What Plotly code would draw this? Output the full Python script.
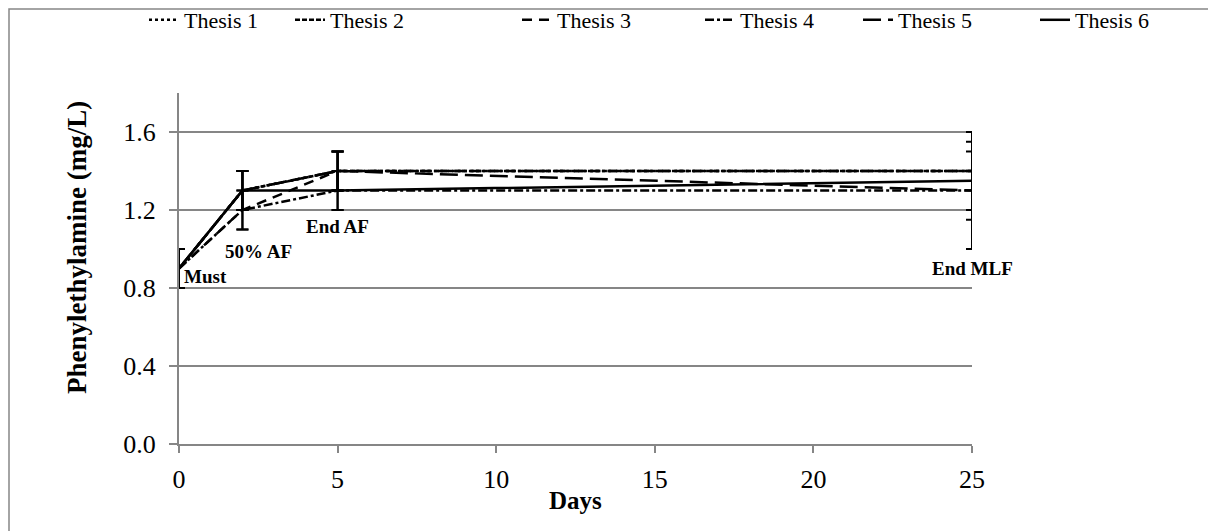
import plotly.graph_objects as go

days = [0, 2, 5, 25]
series_names = ["Thesis 1", "Thesis 2", "Thesis 3", "Thesis 4", "Thesis 5", "Thesis 6"]
thesis1 = [0.9, 1.3, 1.4, 1.4]
thesis2 = [0.9, 1.3, 1.4, 1.4]
thesis3 = [0.9, 1.2, 1.4, 1.4]
thesis4 = [0.9, 1.2, 1.3, 1.3]
thesis5 = [0.9, 1.3, 1.4, 1.3]
thesis6 = [0.9, 1.3, 1.3, 1.35]

err1_plus = [0.1, 0.1, 0.1, 0.2]
err1_minus = [0.1, 0.1, 0.1, 0.2]
err2_plus = [0.1, 0.1, 0.1, 0.2]
err2_minus = [0.1, 0.1, 0.1, 0.2]
err3_plus = [0.1, 0.1, 0.1, 0.2]
err3_minus = [0.1, 0.1, 0.1, 0.2]
err4_plus = [0.1, 0.1, 0.1, 0.2]
err4_minus = [0.1, 0.1, 0.1, 0.1]
err5_plus = [0.1, 0.1, 0.1, 0.3]
err5_minus = [0.1, 0.1, 0.1, 0.3]
err6_plus = [0.1, 0.1, 0.1, 0.2]
err6_minus = [0.1, 0.1, 0.1, 0.2]

stage_labels = ["Must", "50% AF", "End AF", "End MLF"]

values = [thesis1, thesis2, thesis3, thesis4, thesis5, thesis6]
errs_p = [err1_plus, err2_plus, err3_plus, err4_plus, err5_plus, err6_plus]
errs_m = [err1_minus, err2_minus, err3_minus, err4_minus, err5_minus, err6_minus]
dashes = ["dot", "5px,2px", "10px,7px", "dashdot", "18px,7px", "solid"]

FONT = "Liberation Serif"
GRAY = "#868686"
OFF = 8  # page body margin in the screenshot
W, H = 1216, 531
# target plot area in screenshot pixels: x 179..972, y 93..444
ML, MT = 179 - OFF, 93 - OFF
MR, MB = W - (972 - OFF), H - (444 - OFF)
PW, PH = W - ML - MR, H - MT - MB


def px_x(p):
    return (p - OFF - ML) / PW


def px_y(p):
    return (H - MB - (p - OFF)) / PH


legend_ids = ["legend", "legend2", "legend3", "legend4", "legend5", "legend6"]
legend_text_px = [184, 330, 557, 740, 898, 1075]

fig = go.Figure()
for name, vals, ep, em, d, lid in zip(series_names, values, errs_p, errs_m, dashes, legend_ids):
    fig.add_trace(go.Scatter(
        x=days, y=vals, name=name, mode="lines", legend=lid,
        line=dict(color="black", width=2.5, dash=d),
        error_y=dict(type="data", array=ep, arrayminus=em, visible=True,
                     color="black", thickness=2, width=6),
    ))

# stage labels (positions tied to data coordinates)
label_pos = [(0, 0.9, "left", 3, -8), (2, 1.0, "center", 16, -2),
             (5, 1.2, "center", 0, -16), (25, 0.9, "center", 0, 0)]
for lab, (xv, yv, xa, xs, ys) in zip(stage_labels, label_pos):
    fig.add_annotation(x=xv, y=yv, text="<b>%s</b>" % lab, showarrow=False,
                       xanchor=xa, yanchor="middle", xshift=xs, yshift=ys,
                       font=dict(family=FONT, size=19, color="black"))

# axis titles
fig.add_annotation(xref="paper", yref="paper", x=px_x(575), y=px_y(500),
                   xanchor="center", yanchor="middle",
                   text="<b>Days</b>", showarrow=False,
                   font=dict(family=FONT, size=25, color="black"))
fig.add_annotation(xref="paper", yref="paper", x=px_x(77), y=px_y(248),
                   xanchor="center", yanchor="middle",
                   text="<b>Phenylethylamine (mg/L)</b>", textangle=-90,
                   showarrow=False, font=dict(family=FONT, size=27, color="black"))

# outer chart border
fig.add_shape(type="rect", xref="paper", yref="paper",
              x0=px_x(9), x1=px_x(1215), y0=px_y(545), y1=px_y(9),
              line=dict(color=GRAY, width=1.5), layer="below")

layout_legends = {}
for lid, tx in zip(legend_ids, legend_text_px):
    layout_legends[lid] = dict(
        orientation="h", x=px_x(tx - 40), xanchor="left", y=px_y(20), yanchor="middle",
        font=dict(family=FONT, size=22, color="black"),
        bgcolor="rgba(0,0,0,0)", itemwidth=30)

fig.update_layout(
    width=W, height=H,
    margin=dict(l=ML, r=MR, t=MT, b=MB, autoexpand=False),
    paper_bgcolor="white", plot_bgcolor="white",
    font=dict(family=FONT, size=22, color="black"),
    showlegend=True,
    **layout_legends,
    xaxis=dict(range=[0, 25], tickvals=[0, 5, 10, 15, 20, 25], showgrid=False,
               zeroline=False, showline=True, linecolor=GRAY, linewidth=2,
               ticks="outside", ticklen=7, tickcolor=GRAY, tickwidth=2,
               ticklabelstandoff=4,
               tickfont=dict(family=FONT, size=26, color="black")),
    yaxis=dict(range=[0, 1.8], tickvals=[0, 0.4, 0.8, 1.2, 1.6], tickformat=".1f",
               showgrid=True, gridcolor=GRAY, gridwidth=1.5, zeroline=False,
               showline=True, linecolor=GRAY, linewidth=2,
               ticks="outside", ticklen=8, tickcolor=GRAY, tickwidth=2,
               ticklabelstandoff=8,
               tickfont=dict(family=FONT, size=26, color="black")),
)

fig.write_html("out.html")
